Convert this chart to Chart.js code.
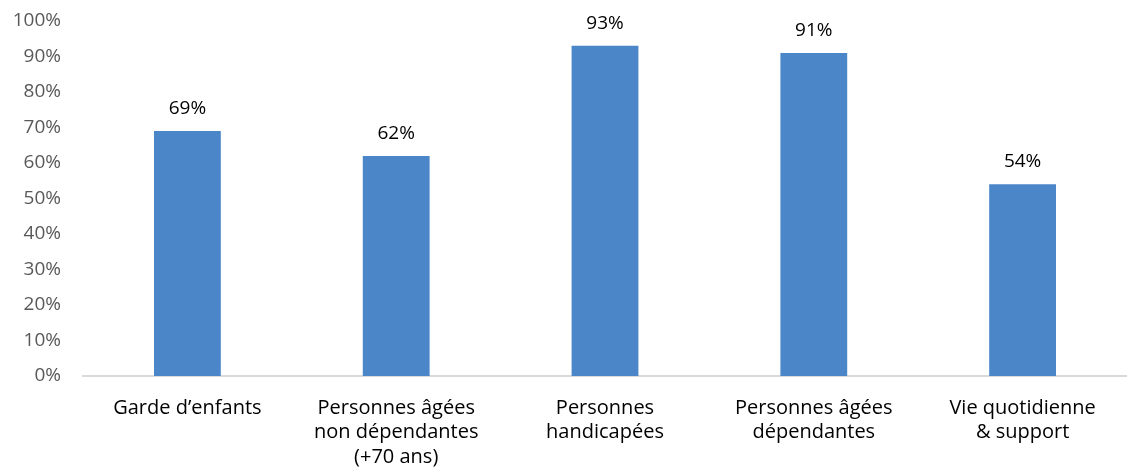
<!DOCTYPE html>
<html>
<head>
<meta charset="utf-8">
<script src="https://cdn.jsdelivr.net/npm/chart.js@4"></script>
<style>
  html, body { margin: 0; padding: 0; background: #fff; }
  #wrap { width: 1127px; height: 467px; }
</style>
</head>
<body>
<div id="wrap"><canvas id="myChart"></canvas></div>
<script>
// categories et valeurs
const categories = [
  ["Garde d\u2019enfants"],
  ["Personnes âgées", "non dépendantes", "(+70 ans)"],
  ["Personnes", "handicapées"],
  ["Personnes âgées", "dépendantes"],
  ["Vie quotidienne", "& support"]
];
const valeurs = [69, 62, 93, 91, 54];
const yTicks = [0, 10, 20, 30, 40, 50, 60, 70, 80, 90, 100];

const fontFamily = "'Open Sans', 'Noto Sans', sans-serif";

// etiquettes au-dessus des barres
const labelPlugin = {
  id: "barLabels",
  afterDatasetsDraw(chart) {
    const ctx = chart.ctx;
    const meta = chart.getDatasetMeta(0);
    ctx.save();
    ctx.font = "19px " + fontFamily;
    ctx.fillStyle = "#000";
    ctx.textAlign = "center";
    ctx.textBaseline = "alphabetic";
    meta.data.forEach((bar, i) => {
      ctx.fillText(valeurs[i] + "%", bar.x, bar.y - 17);
    });
    ctx.restore();
  }
};

let chart = new Chart(document.getElementById("myChart").getContext("2d"), {
  type: "bar",
  data: {
    labels: categories,
    datasets: [{
      data: valeurs,
      backgroundColor: "#4a86c8",
      barPercentage: 0.64,
      categoryPercentage: 0.5
    }]
  },
  options: {
    responsive: true,
    maintainAspectRatio: false,
    animation: false,
    layout: { padding: { top: 21, right: 0, left: 0, bottom: 0 } },
    plugins: {
      legend: { display: false },
      tooltip: { enabled: false }
    },
    scales: {
      x: {
        grid: { display: false, drawTicks: false },
        border: { display: true, color: "#d9d9d9", width: 2 },
        ticks: {
          color: "#000",
          font: { size: 20, family: fontFamily, lineHeight: 1.22 },
          padding: 20,
          maxRotation: 0,
          autoSkip: false
        },
        afterFit(scale) {
          scale.height = 91;
          scale.paddingLeft = 0;
          scale.paddingRight = 0;
        }
      },
      y: {
        min: 0,
        max: 100,
        afterBuildTicks(scale) { scale.ticks = yTicks.map(v => ({ value: v })); },
        grid: { display: false, drawTicks: false },
        border: { display: false },
        ticks: {
          color: "#595959",
          font: { size: 19, family: fontFamily },
          padding: 22,
          callback: v => v + "%"
        },
        afterFit(scale) {
          scale.width = 83;
          scale.paddingTop = 0;
          scale.paddingBottom = 0;
        }
      }
    }
  },
  plugins: [labelPlugin]
});
</script>
</body>
</html>
